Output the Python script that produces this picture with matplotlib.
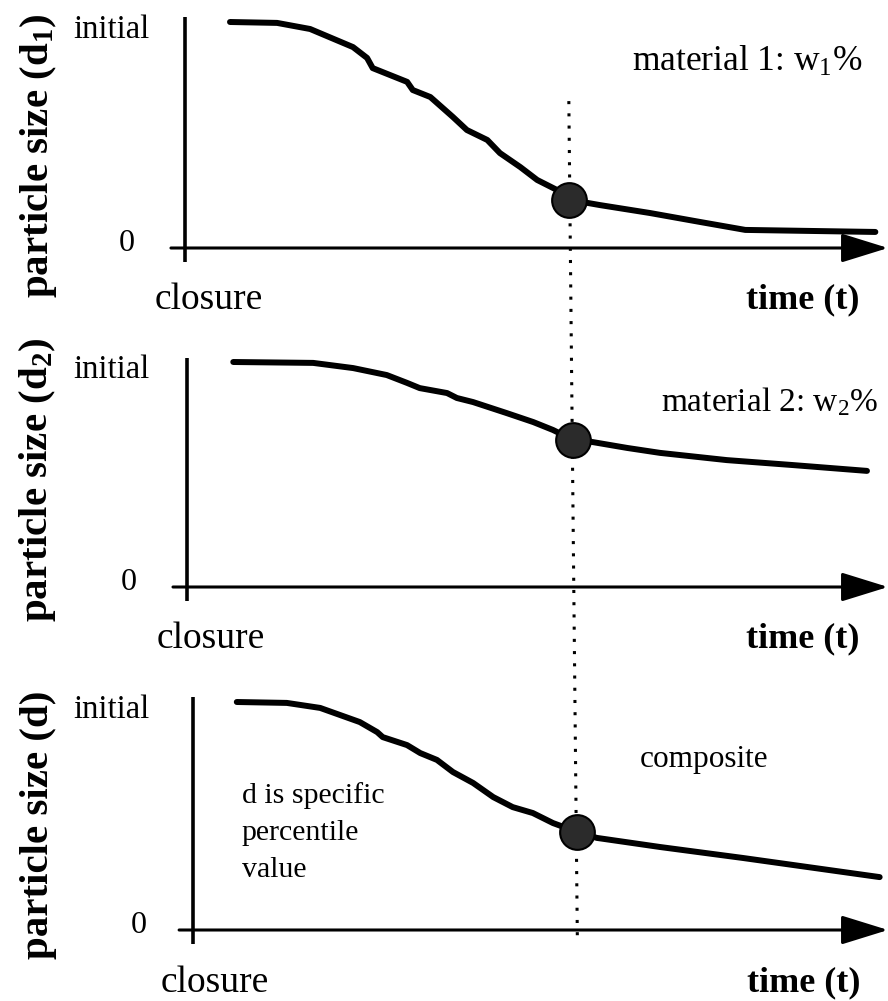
import matplotlib
matplotlib.use("Agg")
import matplotlib.pyplot as plt
from matplotlib.lines import Line2D
from matplotlib.patches import FancyArrowPatch

plt.rcParams['font.family'] = ['Liberation Serif', 'DejaVu Serif']
plt.rcParams['mathtext.fontset'] = 'custom'
plt.rcParams['mathtext.rm'] = 'Liberation Serif'
plt.rcParams['mathtext.it'] = 'Liberation Serif:italic'
plt.rcParams['mathtext.bf'] = 'Liberation Serif:bold'

# time on 0-100 scale, particle size as % of initial size
t_mat1 = [6.4, 13.1, 17.8, 23.9, 25.9, 26.7, 31.6, 32.4, 34.9, 38.1, 40.1, 43.0, 44.8,
          47.7, 50.1, 52.9, 54.6, 59.0, 66.1, 73.3, 79.7, 98.2]
d_mat1 = [100, 99.6, 96.9, 88.9, 84.1, 79.6, 73.5, 69.9, 66.8, 58.0, 52.2, 47.8, 42.0,
          35.8, 30.1, 25.7, 21.4, 19.0, 15.5, 11.5, 8.0, 7.1]

t_mat2 = [6.6, 18.0, 23.7, 28.5, 31.4, 33.2, 37.1, 38.5, 40.8, 45.6, 49.4, 52.2, 55.0,
          57.9, 62.8, 67.5, 77.0, 86.4, 97.0]
d_mat2 = [100, 99.6, 97.3, 94.2, 90.7, 88.4, 86.2, 84.0, 82.2, 77.3, 73.3, 69.8, 65.5,
          64.4, 61.8, 59.6, 56.4, 54.2, 51.6]

t_comp = [6.3, 13.5, 18.3, 24.0, 26.5, 27.3, 30.8, 32.7, 35.1, 37.4, 40.3, 43.2, 46.0,
          48.9, 51.8, 55.3, 58.1, 67.2, 79.1, 98.8]
d_comp = [100, 99.6, 97.4, 91.2, 86.8, 84.6, 81.1, 77.6, 74.6, 69.3, 64.5, 58.3, 53.9,
          51.3, 46.9, 43.0, 40.4, 36.4, 31.6, 23.2]

t_pick = [54.6, 55.0, 55.3]
d_pick = [21.4, 65.5, 43.0]

ylabels = ["particle size (d$_\\mathbf{1}$)", "particle size (d$_\\mathbf{2}$)", "particle size (d)"]
ylabel_pos = [(-20.9, 41), (-21.3, 47.6), (-22.3, 46)]

W, H = 888, 1001
fig = plt.figure(figsize=(W / 100, H / 100), dpi=100)

# (y-axis x pixel, x-axis y pixel, "initial" level y pixel)
panels = [(185, 248, 22), (187, 587, 362), (193, 930, 702)]
curves = [(t_mat1, d_mat1), (t_mat2, d_mat2), (t_comp, d_comp)]
# left-side label offsets per panel: "initial" x, "0" x, "closure" x
side_x = [(-5.0, -7.1, -4.3), (-5.3, -7.1, -4.3), (-6.2, -6.6, -4.7)]

axes = []
for i, (x0, y0, yi) in enumerate(panels):
    ax = fig.add_axes([x0 / W, (H - y0) / H, (W - x0) / W, (y0 - yi) / H])
    ax.set_xlim(0, 100)
    ax.set_ylim(0, 100)
    ax.axis('off')
    axes.append(ax)

    # axes lines
    ax.plot([0, 0], [-6, 102], color='black', lw=2.6, clip_on=False, solid_capstyle='butt')
    arr = FancyArrowPatch((-2, 0), (100, 0), arrowstyle='-|>,head_length=1.45,head_width=0.45',
                          mutation_scale=20, color='black', lw=2.2, clip_on=False,
                          shrinkA=0, shrinkB=0)
    ax.add_patch(arr)

    t, d = curves[i]
    ax.plot(t, d, color='black', lw=4.3, clip_on=False, solid_capstyle='round',
            solid_joinstyle='round')
    ax.plot(t_pick[i], d_pick[i], 'o', ms=25, mfc='#2b2b2b', mec='black', mew=1.5,
            clip_on=False, zorder=5)

    xi, xz, xc = side_x[i]
    ax.text(xi, 96.5, "initial", fontsize=23.5, ha='right', va='center', clip_on=False)
    ax.text(xz, 2, "0", fontsize=23, ha='right', va='center', clip_on=False)
    ax.text(xc, -23, "closure", fontsize=27, ha='left', va='center', clip_on=False)
    ax.text(96, -23, "time (t)", fontsize=26, fontweight='bold', ha='right', va='center',
            clip_on=False)
    ax.text(ylabel_pos[i][0], ylabel_pos[i][1], ylabels[i], fontsize=29.5, fontweight='bold',
            rotation=90, ha='center', va='center', clip_on=False)

axes[0].text(96.3, 82.3, "material 1: w$_1$%", fontsize=25.5, ha='right', va='center')
axes[1].text(98.6, 82.2, "material 2: w$_2$%", fontsize=24, ha='right', va='center')
axes[2].text(64.3, 74.6, "composite", fontsize=22.5, ha='left', va='center')
axes[2].text(7.0, 65, "d is specific\npercentile\nvalue", fontsize=21.5, ha='left', va='top',
             linespacing=1.55)

# dotted guide joining the sampling points across all three panels
p_top = fig.transFigure.inverted().transform(axes[0].transData.transform((t_pick[0], 65)))
p_bot = fig.transFigure.inverted().transform(axes[2].transData.transform((t_pick[2], -3)))
fig.add_artist(Line2D([p_top[0], p_bot[0]], [p_top[1], p_bot[1]], color='black', lw=2.2,
                      linestyle=(0, (1, 3)), transform=fig.transFigure, zorder=-1))

fig.savefig("out.png", dpi=100, facecolor='white')
